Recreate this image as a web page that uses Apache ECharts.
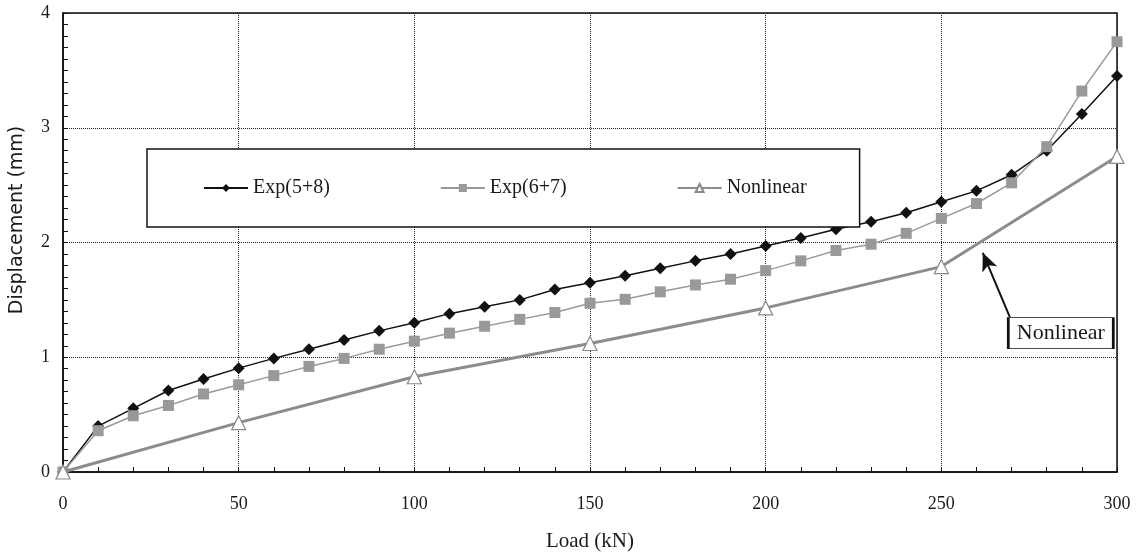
<!DOCTYPE html>
<html>
<head>
<meta charset="utf-8">
<script src="https://cdn.jsdelivr.net/npm/echarts@6/dist/echarts.min.js"></script>
<style>
  html, body { margin: 0; padding: 0; background: #fff; }
  #chart { width: 1137px; height: 558px; }
</style>
</head>
<body>
<div id="chart"></div>
<script>
// load steps (kN)
const loads = [0, 10, 20, 30, 40, 50, 60, 70, 80, 90, 100, 110, 120, 130, 140, 150,
  160, 170, 180, 190, 200, 210, 220, 230, 240, 250, 260, 270, 280, 290, 300];
// displacement (mm)
const exp58 = [0, 0.40, 0.555, 0.71, 0.81, 0.905, 0.99, 1.07, 1.15, 1.23, 1.30, 1.38, 1.44, 1.50, 1.59, 1.65,
  1.71, 1.775, 1.84, 1.90, 1.97, 2.04, 2.115, 2.18, 2.26, 2.355, 2.45, 2.59, 2.80, 3.12, 3.45];
const exp67 = [0, 0.36, 0.49, 0.58, 0.68, 0.76, 0.84, 0.92, 0.99, 1.07, 1.14, 1.21, 1.27, 1.33, 1.39, 1.47,
  1.505, 1.57, 1.63, 1.68, 1.755, 1.84, 1.93, 1.985, 2.08, 2.21, 2.34, 2.52, 2.835, 3.32, 3.75];
const nlLoads = [0, 50, 100, 150, 200, 250, 300];
const nonlinear = [0, 0.43, 0.83, 1.12, 1.43, 1.79, 2.75];

const FONT = "'Liberation Serif', 'Times New Roman', serif";

function pairs(xs, ys) {
  return xs.map((x, i) => [x, ys[i]]);
}

const chart = echarts.init(document.getElementById("chart"));
chart.setOption({
  animation: false,
  textStyle: { fontFamily: FONT, color: "#1a1a1a" },
  grid: {
    left: 63, right: 20, top: 13, bottom: 86,
    show: true, borderColor: "#111", borderWidth: 1.5,
  },
  legend: {
    left: 147, top: 149,
    padding: [29, 53, 29, 56],
    itemGap: 110,
    itemWidth: 44, itemHeight: 10,
    borderColor: "#111", borderWidth: 1.5,
    backgroundColor: "#fff",
    textStyle: { fontFamily: FONT, fontSize: 20, color: "#1a1a1a" },
    data: ["Exp(5+8)", "Exp(6+7)", "Nonlinear"],
  },
  // y axis title sits a bit above the axis middle in the original
  graphic: [{
    type: "text",
    x: 17, y: 220,
    rotation: Math.PI / 2,
    style: {
      text: "Displacement (mm)",
      align: "center", verticalAlign: "middle",
      font: "19px 'DejaVu Sans', sans-serif",
      fill: "#1a1a1a",
    },
  }],
  xAxis: {
    type: "value",
    min: 0, max: 300, interval: 50,
    name: "Load (kN)",
    nameLocation: "middle",
    nameGap: 59,
    nameTextStyle: { fontFamily: FONT, fontSize: 21, color: "#1a1a1a" },
    axisLine: { show: true, lineStyle: { color: "#111", width: 1.5 } },
    axisTick: { show: true, inside: true, length: 5, lineStyle: { color: "#111" } },
    minorTick: { show: true, splitNumber: 5, length: 5, lineStyle: { color: "#111" } },
    axisLabel: { fontFamily: FONT, fontSize: 18, color: "#1a1a1a", margin: 23 },
    splitLine: { show: true, lineStyle: { type: "dotted", color: "#222", width: 1 } },
  },
  yAxis: {
    type: "value",
    min: 0, max: 4, interval: 1,
    axisLine: { show: true, lineStyle: { color: "#111", width: 1.5 } },
    axisTick: { show: true, inside: true, length: 5, lineStyle: { color: "#111" } },
    minorTick: { show: true, splitNumber: 10, length: 5, lineStyle: { color: "#111" } },
    axisLabel: { fontFamily: FONT, fontSize: 18, color: "#1a1a1a", margin: 13 },
    splitLine: { show: true, lineStyle: { type: "dotted", color: "#222", width: 1 } },
  },
  series: [
    {
      name: "Exp(5+8)",
      type: "line",
      data: pairs(loads, exp58),
      symbol: "diamond",
      symbolSize: 12,
      lineStyle: { color: "#111", width: 1.5 },
      itemStyle: { color: "#111" },
      z: 3,
    },
    {
      name: "Exp(6+7)",
      type: "line",
      data: pairs(loads, exp67),
      symbol: "rect",
      symbolSize: 11,
      lineStyle: { color: "#9a9a9a", width: 1.5 },
      itemStyle: { color: "#999" },
      z: 4,
    },
    {
      name: "Nonlinear",
      type: "line",
      data: pairs(nlLoads, nonlinear),
      symbol: "triangle",
      symbolSize: 14,
      lineStyle: { color: "#8c8c8c", width: 3 },
      itemStyle: { color: "#fff", borderColor: "#888", borderWidth: 1.2 },
      z: 5,
      markLine: {
        silent: true,
        symbol: ["none", "arrow"],
        symbolSize: [12, 18],
        lineStyle: { color: "#111", width: 2, type: "solid" },
        label: { show: false },
        data: [[{ coord: [269.5, 1.35] }, { coord: [261.8, 1.91] }]],
      },
      markPoint: {
        silent: true,
        symbol: "rect",
        symbolSize: [105, 31],
        itemStyle: { color: "#fff", borderColor: "#111", borderWidth: 1.5 },
        label: {
          show: true, position: "inside",
          formatter: "Nonlinear",
          fontFamily: FONT, fontSize: 22, color: "#1a1a1a",
        },
        data: [{ coord: [284, 1.21] }],
      },
    },
  ],
});
</script>
</body>
</html>
